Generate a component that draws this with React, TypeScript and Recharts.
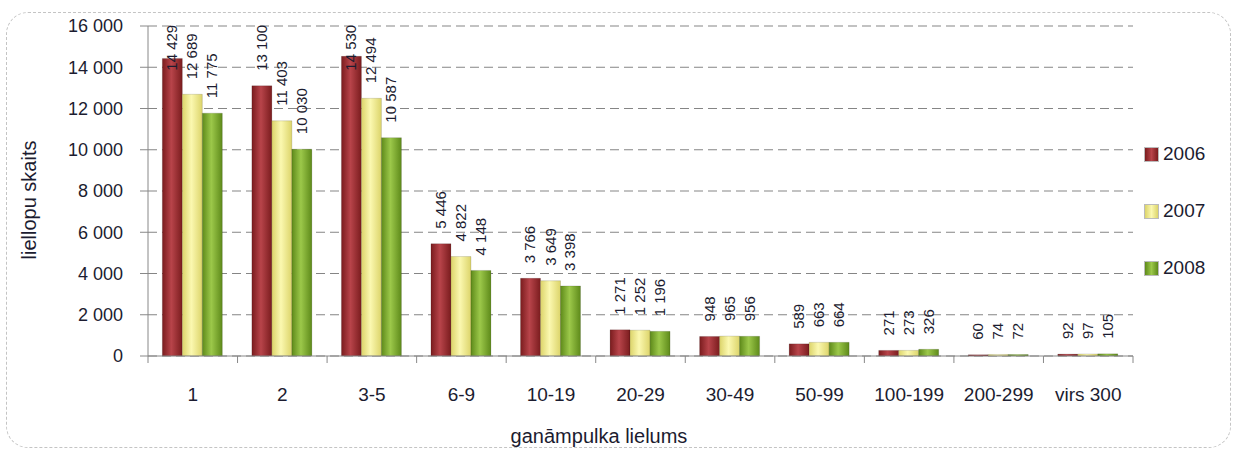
import React from "react";
import {
  BarChart,
  Bar,
  XAxis,
  YAxis,
  CartesianGrid,
  Legend,
  LabelList,
} from "recharts";

const categories = ["1", "2", "3-5", "6-9", "10-19", "20-29", "30-49", "50-99", "100-199", "200-299", "virs 300"];
const values2006 = [14429, 13100, 14530, 5446, 3766, 1271, 948, 589, 271, 60, 92];
const values2007 = [12689, 11403, 12494, 4822, 3649, 1252, 965, 663, 273, 74, 97];
const values2008 = [11775, 10030, 10587, 4148, 3398, 1196, 956, 664, 326, 72, 105];
const yTicks = [0, 2000, 4000, 6000, 8000, 10000, 12000, 14000, 16000];

const series = [
  { key: "2006", id: "g2006", edge: "#7a1c1e", mid: "#b8444a", legendY: 0 },
  { key: "2007", id: "g2007", edge: "#dcd46a", mid: "#fbf8b0", legendY: 57 },
  { key: "2008", id: "g2008", edge: "#5e8a1a", mid: "#9cc84a", legendY: 114 },
];

const data = categories.map((name, i) => ({
  name,
  "2006": values2006[i],
  "2007": values2007[i],
  "2008": values2008[i],
}));

const FONT = "'Liberation Sans', Arial, sans-serif";
const TEXT = "#1c1c30";
const LABEL_SIZE = 15;

const fmt = (v: number) => String(v).replace(/\B(?=(\d{3})+(?!\d))/g, " ");

// rotated value labels above each bar, kept inside the top of the plot like Excel does
const ValueLabel = (props: any) => {
  const { x, y, width, value } = props;
  const text = fmt(value);
  const len = text.length * LABEL_SIZE * 0.53;
  let start = y - 15;
  if (start - len < 23) start = 23 + len;
  const cx = x + width / 2 + 5;
  return (
    <text
      x={cx}
      y={start}
      transform={`rotate(-90 ${cx} ${start})`}
      textAnchor="start"
      fontSize={LABEL_SIZE}
      fontFamily={FONT}
      fill={TEXT}
    >
      {text}
    </text>
  );
};

const XTick = (props: any) => {
  const { x, y, payload, index } = props;
  const half = payload.offset || 44.8;
  return (
    <g>
      <line x1={x - half} y1={y - 8} x2={x - half} y2={y - 1} stroke="#888" />
      {index === categories.length - 1 && (
        <line x1={x + half} y1={y - 8} x2={x + half} y2={y - 1} stroke="#888" />
      )}
      <text x={x} y={y + 37} textAnchor="middle" fontSize={19} fontFamily={FONT} fill={TEXT}>
        {payload.value}
      </text>
    </g>
  );
};

const LegendContent = () => (
  <div style={{ position: "relative", width: 90, height: 140, fontFamily: FONT }}>
    {series.map((s) => (
      <div
        key={s.key}
        style={{ position: "absolute", top: s.legendY, left: 0, display: "flex", alignItems: "center" }}
      >
        <span
          style={{
            display: "inline-block",
            width: 13,
            height: 13,
            background: `linear-gradient(90deg, ${s.edge}, ${s.mid} 50%, ${s.edge})`,
            border: "1px solid #bbb",
            marginRight: 4,
          }}
        />
        <span style={{ fontSize: 19, color: TEXT }}>{s.key}</span>
      </div>
    ))}
  </div>
);

export default function App() {
  return (
    <div style={{ position: "absolute", left: 0, top: 0, width: 1235, height: 450, background: "#fff" }}>
      <div
        style={{
          position: "absolute",
          left: 6,
          top: 12,
          width: 1223,
          height: 434,
          border: "1px dashed #c4c4c4",
          borderRadius: 22,
        }}
      />
      <BarChart
        width={1235}
        height={450}
        data={data}
        margin={{ top: 26, right: 102, bottom: 34, left: 0 }}
        barCategoryGap="16%"
        barGap={0}
        style={{ position: "absolute", left: 0, top: 0 }}
      >
        <defs>
          {series.map((s) => (
            <linearGradient key={s.id} id={s.id} x1="0" y1="0" x2="1" y2="0">
              <stop offset="0%" stopColor={s.edge} />
              <stop offset="45%" stopColor={s.mid} />
              <stop offset="100%" stopColor={s.edge} />
            </linearGradient>
          ))}
        </defs>
        <CartesianGrid vertical={false} stroke="#858585" strokeDasharray="9 5" />
        <XAxis
          dataKey="name"
          height={60}
          stroke="#888"
          tickLine={false}
          tick={<XTick />}
          interval={0}
          label={{
            content: () => (
              <text x={599} y={443} textAnchor="middle" fontSize={20} fontFamily={FONT} fill={TEXT}>
                ganāmpulka lielums
              </text>
            ),
          }}
        />
        <YAxis
          width={148}
          domain={[0, 16000]}
          ticks={yTicks}
          tickFormatter={fmt}
          stroke="#888"
          tickSize={8}
          tickMargin={17}
          tick={{ fontSize: 18, fontFamily: FONT, fill: TEXT }}
          label={{
            content: () => (
              <text
                x={36}
                y={200}
                transform="rotate(-90 36 200)"
                textAnchor="middle"
                fontSize={20}
                fontFamily={FONT}
                fill={TEXT}
              >
                liellopu skaits
              </text>
            ),
          }}
        />
        <Legend
          layout="vertical"
          align="center"
          verticalAlign="middle"
          wrapperStyle={{ left: 1144, top: 143, width: 90 }}
          content={<LegendContent />}
        />
        {series.map((s) => (
          <Bar
            key={s.key}
            dataKey={s.key}
            fill={`url(#${s.id})`}
            stroke="#00000022"
            isAnimationActive={false}
          >
            <LabelList dataKey={s.key} content={<ValueLabel />} />
          </Bar>
        ))}
      </BarChart>
    </div>
  );
}
